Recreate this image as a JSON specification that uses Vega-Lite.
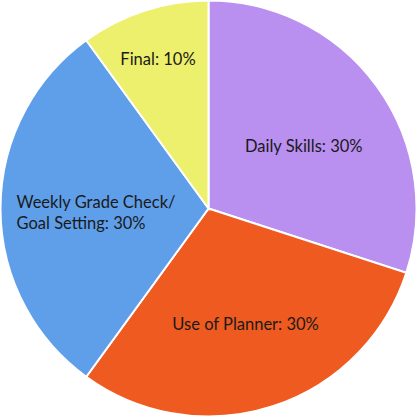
{
  "$schema": "https://vega.github.io/schema/vega-lite/v6.json",
  "width": 417,
  "height": 417,
  "autosize": {"type": "fit", "contains": "padding"},
  "padding": 0,
  "background": "white",
  "view": {"stroke": null},
  "data": {
    "values": [
      {"idx": 1, "category": "Daily Skills", "value": 30, "label": "Daily Skills: 30%"},
      {"idx": 2, "category": "Use of Planner", "value": 30, "label": "Use of Planner: 30%"},
      {"idx": 3, "category": "Weekly Grade Check/ Goal Setting", "value": 30, "label": "Weekly Grade Check/\nGoal Setting: 30%"},
      {"idx": 4, "category": "Final", "value": 10, "label": "Final: 10%"}
    ]
  },
  "encoding": {
    "theta": {"field": "value", "type": "quantitative", "stack": true},
    "order": {"field": "idx", "type": "quantitative"}
  },
  "layer": [
    {
      "mark": {"type": "arc", "radius": 208, "stroke": "white", "strokeWidth": 2},
      "encoding": {
        "color": {
          "field": "category",
          "type": "nominal",
          "scale": {
            "domain": ["Daily Skills", "Use of Planner", "Weekly Grade Check/ Goal Setting", "Final"],
            "range": ["#b98ff0", "#ee5a1f", "#5f9fe9", "#edf06c"]
          },
          "legend": null
        }
      }
    },
    {
      "mark": {"type": "text", "radius": 114, "dx": 3, "dy": 6, "font": "Lato", "fontSize": 16.5, "fill": "#1a1a1a", "align": "center", "baseline": "middle"},
      "encoding": {"text": {"condition": {"test": "datum.idx == 1", "field": "label"}, "value": ""}}
    },
    {
      "mark": {"type": "text", "radius": 120, "dx": 0, "dy": 2, "font": "Lato", "fontSize": 16.5, "fill": "#1a1a1a", "align": "center", "baseline": "middle"},
      "encoding": {"text": {"condition": {"test": "datum.idx == 2", "field": "label"}, "value": ""}}
    },
    {
      "mark": {"type": "text", "radius": 114, "dx": -78, "dy": -6, "font": "Lato", "fontSize": 16.5, "fill": "#1a1a1a", "align": "left", "baseline": "middle", "lineBreak": "\n", "lineHeight": 21},
      "encoding": {"text": {"condition": {"test": "datum.idx == 3", "field": "label"}, "value": ""}}
    },
    {
      "mark": {"type": "text", "radius": 157, "dx": -2, "dy": 1, "font": "Lato", "fontSize": 16.5, "fill": "#1a1a1a", "align": "center", "baseline": "middle"},
      "encoding": {"text": {"condition": {"test": "datum.idx == 4", "field": "label"}, "value": ""}}
    }
  ]
}
